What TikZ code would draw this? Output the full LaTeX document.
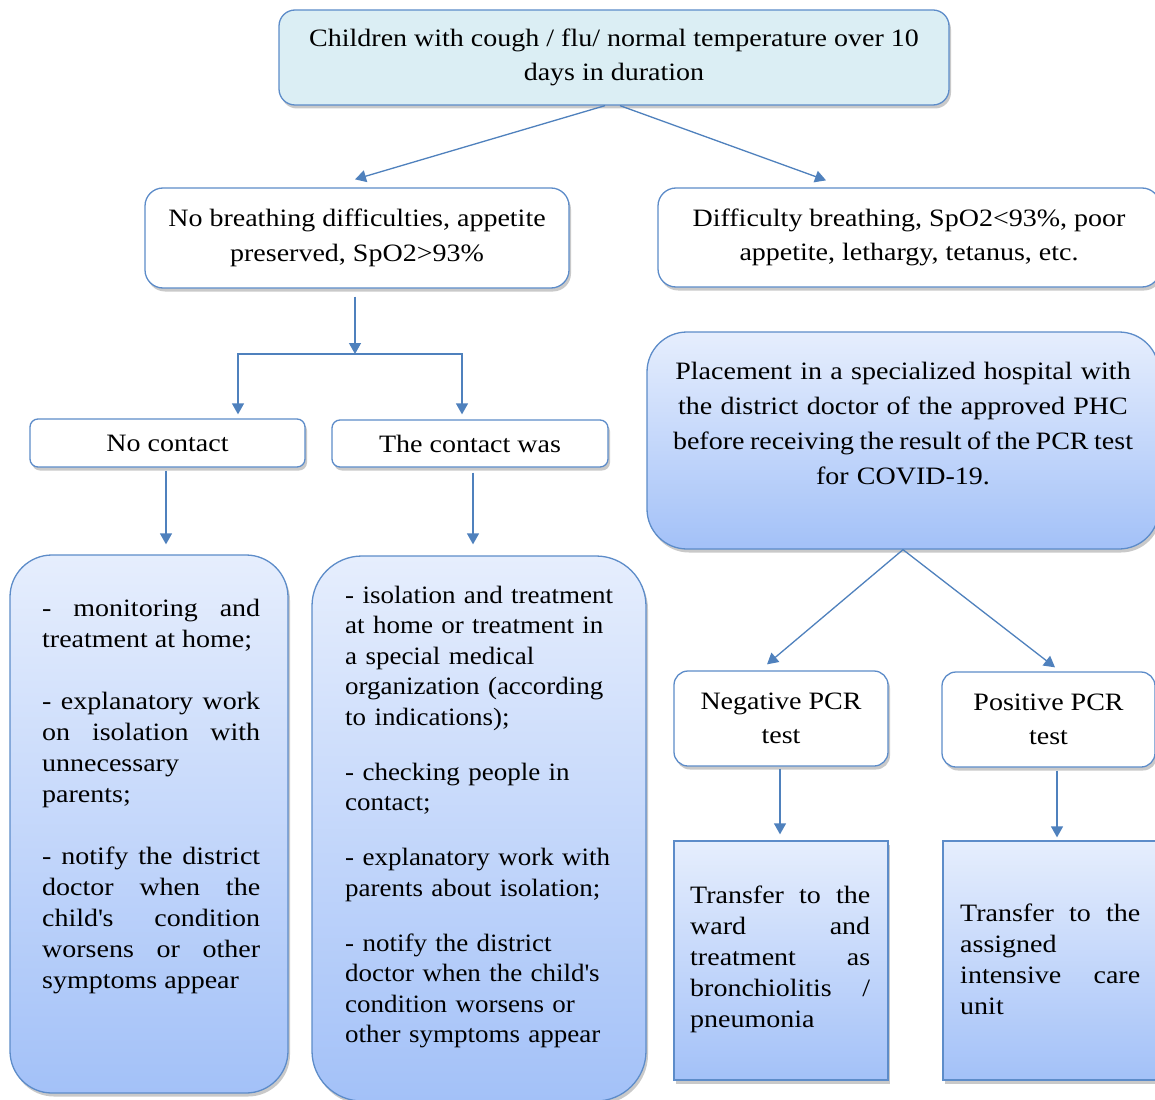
\documentclass[tikz,border=0pt]{standalone}
\usepackage{fontspec}
\setmainfont{Liberation Serif}[FakeStretch=1.12]
\newfontfamily\condfont{Liberation Serif}[FakeStretch=1.08]
\usetikzlibrary{arrows.meta,shadows,calc}
\definecolor{bordc}{RGB}{93,140,201}
\definecolor{arrc}{RGB}{79,129,189}
\definecolor{topfill}{RGB}{219,238,244}
\definecolor{gtop}{RGB}{230,238,253}
\definecolor{gbot}{RGB}{163,193,248}
\newcommand\fsA{\fontsize{25}{34.5}\selectfont}
\newcommand\fsB{\fontsize{25}{31}\selectfont\tolerance=10000\hbadness=10000\emergencystretch=20pt\hyphenpenalty=10000}
\newcommand\fsC{\condfont\fontsize{25}{30.5}\selectfont\spaceskip=4.5pt plus 1pt minus 1pt}
\newcommand\apos{\textquotesingle}
\tikzset{
  myshadow/.style={drop shadow={shadow xshift=2pt, shadow yshift=-3.5pt, opacity=0.35, fill=black!60}},
  whitebox/.style={draw=bordc, line width=1.3pt, fill=white, rounded corners=12pt, myshadow, font=\fsA, align=center, inner sep=0pt},
  gradbox/.style={draw=bordc, line width=1.3pt, top color=gtop, bottom color=gbot, myshadow, inner sep=0pt},
  arr/.style={draw=arrc, line width=1.3pt, -{Triangle[width=12pt,length=11pt]}},
  txt/.style={anchor=base west, inner sep=0pt, font=\fsB, text width=#1},
}
\begin{document}
\begin{tikzpicture}[x=1pt,y=-1pt]
\path[use as bounding box] (0,0) rectangle (1155,1099);
\clip (0,0) rectangle (1155,1099);
\fill[white] (0,0) rectangle (1155,1099);

% boxes
\node[whitebox, fill=topfill, rounded corners=16pt, minimum width=670pt, minimum height=95pt] (top) at (614,57.5)
  {Children with cough / flu/ normal temperature over 10\\days in duration};
\node[whitebox, rounded corners=18pt, minimum width=424pt, minimum height=100pt] (A) at (357,238)
  {No breathing difficulties, appetite\\preserved, SpO2>93\%};
\node[whitebox, rounded corners=18pt, minimum width=502pt, minimum height=99pt] (B) at (909,237.5)
  {Difficulty breathing, SpO2<93\%, poor\\appetite, lethargy, tetanus, etc.};
\node[whitebox, rounded corners=8pt, minimum width=275pt, minimum height=48pt] (nocontact) at (167.5,443) {No contact};
\node[whitebox, rounded corners=8pt, minimum width=276pt, minimum height=47pt] (contact) at (470,443.5) {The contact was};
\node[gradbox, rounded corners=40pt, minimum width=512pt, minimum height=217pt] (placement) at (903,440.5) {};
\node[whitebox, rounded corners=14pt, minimum width=214pt, minimum height=95pt] (neg) at (781,718.5) {Negative PCR\\test};
\node[whitebox, rounded corners=14pt, minimum width=213pt, minimum height=95pt] (pos) at (1048.5,719.5) {Positive PCR\\test};
\node[gradbox, rounded corners=42pt, minimum width=278pt, minimum height=538pt] (leftbox) at (149,824) {};
\node[gradbox, rounded corners=50pt, minimum width=334pt, minimum height=545pt] (midbox) at (479,828.5) {};
\node[gradbox, minimum width=214pt, minimum height=239pt] (ward) at (781,960.5) {};
\node[gradbox, minimum width=217pt, minimum height=239pt] (icu) at (1051.5,960.5) {};

% texts
\node[font=\fontsize{25}{35}\selectfont, inner sep=0pt, text width=500pt, align=center, anchor=base] (ptext) at (903,379)
  {Placement in a specialized hospital with\\the district doctor of the approved PHC\\{\spaceskip=5.5pt before receiving the result of the PCR test}\\for COVID-19.};
\node[txt=218pt, align=justify] (ltext) at (42,616)
  {- monitoring and\linebreak treatment at home;\par\vspace{31pt}
   - explanatory work\linebreak on isolation with\linebreak unnecessary\linebreak parents;\par\vspace{31pt}
   - notify the district\linebreak doctor when the\linebreak child\apos s condition\linebreak worsens or other\linebreak symptoms appear};
\node[anchor=base west, inner sep=0pt, font=\fsC, text width=300pt, align=left] (mtext) at (345,603)
  {- isolation and treatment\\at home or treatment in\\a special medical\\organization (according\\to indications);\\[24.5pt]
   - checking people in\\contact;\\[24.5pt]
   - explanatory work with\\parents about isolation;\\[24.5pt]
   - notify the district\\doctor when the child\apos s\\condition worsens or\\other symptoms appear};
\node[txt=180pt, align=justify] (wtext) at (690,903)
  {Transfer to the\linebreak ward and\linebreak treatment as\linebreak bronchiolitis /\linebreak pneumonia};
\node[txt=180pt, align=justify] (itext) at (960,921)
  {Transfer to the\linebreak assigned\linebreak intensive care\linebreak unit};

% connectors
\coordinate (split) at (355,354);
\draw[arr] ($(top.south)+(-9,0)$) -- ($(A.north)+(-2,-8)$);
\draw[arr] ($(top.south)+(6,0)$) -- ($(B.north)+(-83,-7)$);
\draw[arr] ($(A.south)+(-2,8)$) -- (split);
\draw[arr] (split) -| ($(nocontact.north)+(70.5,-4)$);
\draw[arr] (split) -| ($(contact.north)+(-8,-5)$);
\draw[arr] ($(nocontact.south)+(-1.5,3)$) -- ($(nocontact.south |- leftbox.north)+(-1.5,-10)$);
\draw[arr] ($(contact.south)+(3,5)$) -- ($(contact.south |- midbox.north)+(3,-11)$);
\draw[arr] (placement.south) -- ($(neg.north)+(-14,-6)$);
\draw[arr] (placement.south) -- ($(pos.north)+(6.5,-4)$);
\draw[arr] ($(neg.south)+(-1,2)$) -- ($(neg.south |- ward.north)+(-1,-6)$);
\draw[arr] ($(pos.south)+(8.5,3)$) -- ($(pos.south |- icu.north)+(8.5,-3)$);
\end{tikzpicture}
\end{document}
